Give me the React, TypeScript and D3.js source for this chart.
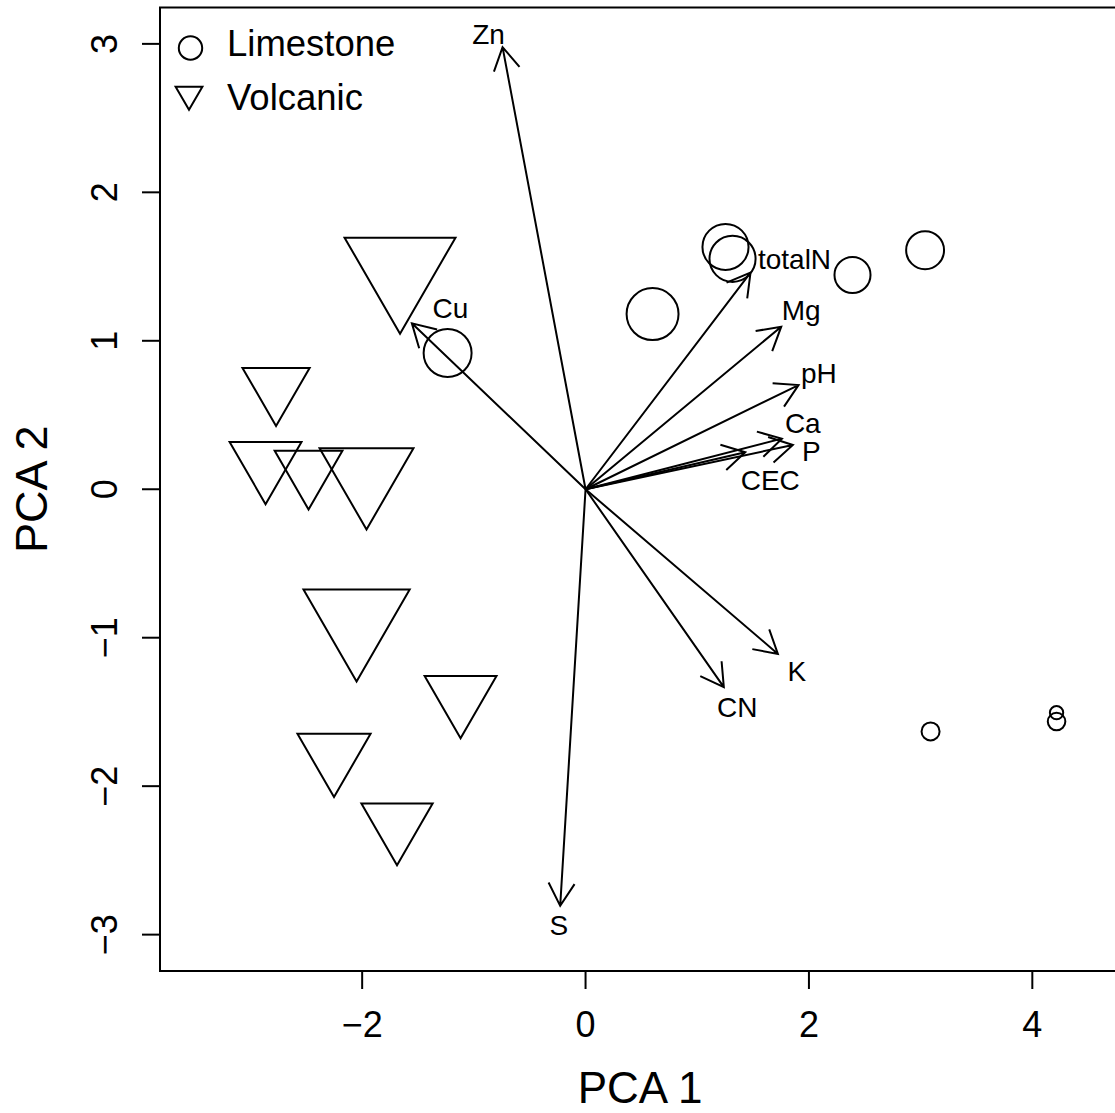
import * as d3 from 'd3';

// PCA scores, Limestone sites
const limeX = [1.316, 1.253, 0.6, -1.235, 2.39, 3.04, 3.089, 4.217, 4.217];
const limeY = [1.552, 1.632, 1.18, 0.918, 1.443, 1.61, -1.631, -1.505, -1.565];
const limeCex = [1.97, 1.97, 2.22, 2.05, 1.54, 1.62, 0.77, 0.57, 0.75];

// PCA scores, Volcanic sites
const volcX = [-1.661, -2.771, -2.865, -2.48, -1.961, -2.05, -1.119, -2.252, -1.688];
const volcY = [1.479, 0.687, 0.179, 0.127, 0.094, -0.882, -1.397, -1.789, -2.256];
const volcCex = [3.52, 2.13, 2.28, 2.15, 2.98, 3.37, 2.28, 2.32, 2.26];

// variable loadings (arrow tips) and where their labels sit
const varNames = ['Zn', 'Cu', 'totalN', 'Mg', 'pH', 'Ca', 'P', 'CEC', 'K', 'CN', 'S'];
const loadX = [-0.743, -1.555, 1.477, 1.752, 1.907, 1.758, 1.856, 1.43, 1.722, 1.238, -0.227];
const loadY = [2.978, 1.118, 1.459, 1.095, 0.702, 0.341, 0.298, 0.249, -1.109, -1.333, -2.806];
const labX = [-0.868, -1.209, 1.871, 1.931, 2.089, 1.945, 2.021, 1.654, 1.892, 1.358, -0.239];
const labY = [3.066, 1.221, 1.547, 1.207, 0.781, 0.448, 0.253, 0.063, -1.228, -1.468, -2.934];

const xTicks = [-2, 0, 2, 4];
const yTicks = [-3, -2, -1, 0, 1, 2, 3];
const legendLabels = ['Limestone', 'Volcanic'];
const legendCex = [1.0, 0.85];

const W = 1115;
const H = 1113;
const FONT = '"Liberation Sans", Arial, Helvetica, sans-serif';

// R's pch=6 (point-down triangle) geometry
const TRC0 = Math.sqrt((4 * Math.PI) / (3 * Math.sqrt(3)));
const TRC1 = (TRC0 * Math.sqrt(3)) / 2;
const TRC2 = TRC0 / 2;

function triDown(cx: number, cy: number, rc: number) {
  const r = TRC0 * rc;
  const xc = TRC1 * rc;
  const yc = TRC2 * rc;
  return `M${cx},${cy + r}L${cx + xc},${cy - yc}L${cx - xc},${cy - yc}Z`;
}

function arrowPath(x0: number, y0: number, x1: number, y1: number, len = 26) {
  const a = Math.atan2(y1 - y0, x1 - x0);
  const ang = Math.PI / 6;
  const p1 = [x1 - len * Math.cos(a - ang), y1 - len * Math.sin(a - ang)];
  const p2 = [x1 - len * Math.cos(a + ang), y1 - len * Math.sin(a + ang)];
  return `M${x0},${y0}L${x1},${y1}M${p1[0]},${p1[1]}L${x1},${y1}L${p2[0]},${p2[1]}`;
}

const fmt = (v: number) => (v < 0 ? '\u2212' + Math.abs(v) : String(v));

export default function App() {
  const x = d3.scaleLinear().domain([-3.81, 4.785]).range([160, 1120]);
  const y = d3.scaleLinear().domain([-3.245, 3.245]).range([971, 7.5]);
  const size = d3.scaleLinear().domain([0, 1]).range([0, 11.7]);

  const left = x.range()[0];
  const right = x.range()[1];
  const top = y.range()[1];
  const bottom = y.range()[0];

  return (
    <svg
      width={W}
      height={H}
      style={{ position: 'absolute', left: 0, top: 0, background: '#fff' }}
      fontFamily={FONT}
    >
      <rect x={0} y={0} width={W} height={H} fill="#fff" />

      {/* arrows */}
      <g stroke="#000" strokeWidth={2} fill="none">
        {varNames.map((n, i) => (
          <path key={n} d={arrowPath(x(0), y(0), x(loadX[i]), y(loadY[i]))} />
        ))}
      </g>
      <g fontSize={28} textAnchor="middle">
        {varNames.map((n, i) => (
          <text key={n} x={x(labX[i])} y={y(labY[i])} dy="0.35em">
            {n}
          </text>
        ))}
      </g>

      {/* sites */}
      <g stroke="#000" strokeWidth={2} fill="none">
        {limeX.map((v, i) => (
          <circle key={'l' + i} cx={x(v)} cy={y(limeY[i])} r={size(limeCex[i])} />
        ))}
        {volcX.map((v, i) => (
          <path key={'v' + i} d={triDown(x(v), y(volcY[i]), size(volcCex[i]))} />
        ))}
      </g>

      {/* box */}
      <rect x={left} y={top} width={right - left} height={bottom - top} fill="none" stroke="#000" strokeWidth={2} />

      {/* x axis */}
      <g stroke="#000" strokeWidth={2}>
        {xTicks.map((t) => (
          <line key={t} x1={x(t)} x2={x(t)} y1={bottom} y2={bottom + 18} />
        ))}
      </g>
      <g fontSize={36} textAnchor="middle">
        {xTicks.map((t) => (
          <text key={t} x={x(t)} y={1037}>
            {fmt(t)}
          </text>
        ))}
      </g>
      <text x={(left + right) / 2} y={1103} fontSize={44} textAnchor="middle">
        PCA 1
      </text>

      {/* y axis */}
      <g stroke="#000" strokeWidth={2}>
        {yTicks.map((t) => (
          <line key={t} x1={left - 18} x2={left} y1={y(t)} y2={y(t)} />
        ))}
      </g>
      <g fontSize={36} textAnchor="middle">
        {yTicks.map((t) => (
          <text key={t} x={117} y={y(t)} transform={`rotate(-90, 117, ${y(t)})`}>
            {fmt(t)}
          </text>
        ))}
      </g>
      <text
        x={47}
        y={(top + bottom) / 2}
        fontSize={45}
        textAnchor="middle"
        transform={`rotate(-90, 47, ${(top + bottom) / 2})`}
      >
        PCA 2
      </text>

      {/* legend */}
      <g>
        <circle cx={190.5} cy={48} r={size(legendCex[0])} fill="none" stroke="#000" strokeWidth={2} />
        <path d={triDown(189, 94.4, size(legendCex[1]))} fill="none" stroke="#000" strokeWidth={2} />
        {legendLabels.map((l, i) => (
          <text key={l} x={227} y={56 + i * 54} fontSize={36.5}>
            {l}
          </text>
        ))}
      </g>
    </svg>
  );
}
